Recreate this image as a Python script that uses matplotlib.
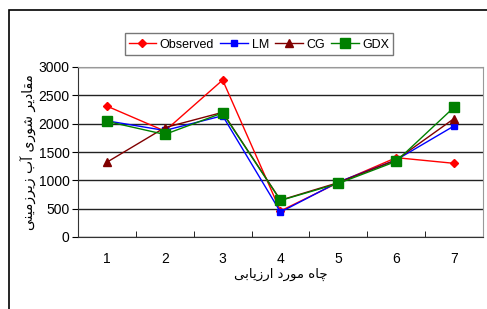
import matplotlib
matplotlib.use("Agg")
import matplotlib.pyplot as plt
from matplotlib.patches import Rectangle

# wells and salinity values
wells = [1, 2, 3, 4, 5, 6, 7]
observed = [2310, 1870, 2770, 460, 960, 1400, 1300]
lm = [2050, 1880, 2140, 440, 970, 1360, 1960]
cg = [1320, 1930, 2200, 650, 960, 1360, 2090]
gdx = [2040, 1810, 2190, 645, 945, 1335, 2290]

xlabel_fa = "چاه مورد ارزیابی"
ylabel_fa = "مقادیر شوری آب زیرزمینی"

# tiny Persian shaper (iso, final, initial, medial); None = doesn't join forward
FORMS = {
    "ا": ("\uFE8D", "\uFE8E", None, None),
    "آ": ("\uFE81", "\uFE82", None, None),
    "ب": ("\uFE8F", "\uFE90", "\uFE91", "\uFE92"),
    "چ": ("\uFB7A", "\uFB7B", "\uFB7C", "\uFB7D"),
    "ه": ("\uFEE9", "\uFEEA", "\uFEEB", "\uFEEC"),
    "م": ("\uFEE1", "\uFEE2", "\uFEE3", "\uFEE4"),
    "و": ("\uFEED", "\uFEEE", None, None),
    "ر": ("\uFEAD", "\uFEAE", None, None),
    "د": ("\uFEA9", "\uFEAA", None, None),
    "ز": ("\uFEAF", "\uFEB0", None, None),
    "ی": ("\uFBFC", "\uFBFD", "\uFBFE", "\uFBFF"),
    "ق": ("\uFED5", "\uFED6", "\uFED7", "\uFED8"),
    "ش": ("\uFEB5", "\uFEB6", "\uFEB7", "\uFEB8"),
    "ن": ("\uFEE5", "\uFEE6", "\uFEE7", "\uFEE8"),
}


def shape(text):
    out = []
    for i, ch in enumerate(text):
        if ch not in FORMS:
            out.append(ch)
            continue
        prev = text[i - 1] if i > 0 else ""
        nxt = text[i + 1] if i + 1 < len(text) else ""
        join_prev = prev in FORMS and FORMS[prev][2] is not None
        join_next = nxt in FORMS and FORMS[ch][2] is not None
        iso, fin, ini, med = FORMS[ch]
        if join_prev and join_next:
            out.append(med)
        elif join_prev:
            out.append(fin)
        elif join_next:
            out.append(ini)
        else:
            out.append(iso)
    return "".join(out)[::-1]


plt.rcParams["font.family"] = ["Liberation Sans", "DejaVu Sans"]

fig = plt.figure(figsize=(4.87, 3.09), dpi=100)
fig.patches.append(Rectangle((9 / 487, -0.1), 1.2, 1 - 10 / 309 + 0.1,
                             transform=fig.transFigure, fill=False,
                             edgecolor="black", linewidth=1.2))
ax = fig.add_axes([78 / 487, 1 - 237 / 309, (483 - 78) / 487, 170 / 309])

ax.plot(wells, observed, color="red", marker="D", markersize=4.5, lw=1, label="Observed")
ax.plot(wells, lm, color="blue", marker="s", markersize=5, lw=1, label="LM")
ax.plot(wells, cg, color="#800000", marker="^", markersize=6, lw=1, label="CG")
ax.plot(wells, gdx, color="green", marker="s", markersize=7, lw=1, label="GDX")

ax.set_xlim(0.5, 7.5)
ax.set_ylim(0, 3000)
ax.set_yticks(range(0, 3001, 500))
ax.set_xticks(wells)
ax.set_xticks([i + 0.5 for i in range(0, 8)], minor=True)
ax.tick_params(axis="x", which="major", length=0, pad=11, labelsize=10)
ax.tick_params(axis="x", which="minor", length=4, direction="in")
ax.tick_params(axis="y", length=4, labelsize=10, pad=2)
ax.grid(axis="y", color="#222222", lw=1)
ax.set_axisbelow(True)
for side in ["top", "right"]:
    ax.spines[side].set_color("#999999")
ax.spines["left"].set_color("#333333")
ax.spines["bottom"].set_color("#333333")

ax.set_xlabel(shape(xlabel_fa), family=["DejaVu Sans"], fontsize=9.5, labelpad=1)
ax.set_ylabel(shape(ylabel_fa), family=["DejaVu Sans"], fontsize=10, labelpad=1)

fig.legend(loc="center", bbox_to_anchor=(259 / 487, 1 - 44 / 309), ncol=4,
           fontsize=9, frameon=True, fancybox=False, edgecolor="#555555",
           handlelength=2.2, handletextpad=0.3, columnspacing=0.5,
           handleheight=1.3, borderpad=0.3, borderaxespad=0)

fig.savefig("out.png", dpi=100)
